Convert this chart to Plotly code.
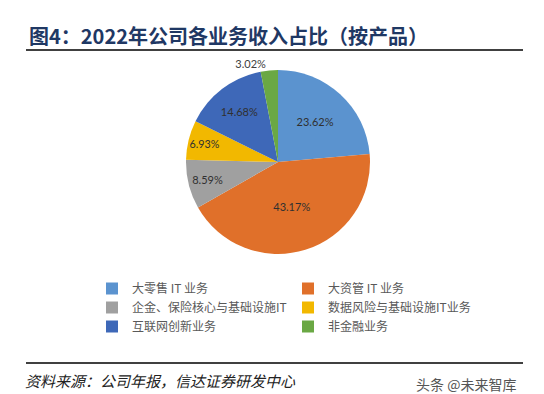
import plotly.graph_objects as go

categories = ["大零售 IT 业务", "大资管 IT 业务", "企金、保险核心与基础设施IT",
              "数据风险与基础设施IT业务", "互联网创新业务", "非金融业务"]
values = [23.62, 43.17, 8.59, 6.93, 14.68, 3.02]
labels_text = ["23.62%", "43.17%", "8.59%", "6.93%", "14.68%", "3.02%"]
colors = ["#5B93CF", "#E0702A", "#A0A0A0", "#F2B800", "#3E68B8", "#6AA844"]
text_positions = ["inside", "inside", "inside", "inside", "inside", "outside"]

W, H = 544, 394
cx, cy, R = 270, 154, 92

fig = go.Figure()
fig.add_trace(go.Pie(
    labels=categories, values=values, text=labels_text,
    textinfo="text", textposition=text_positions,
    insidetextorientation="horizontal",
    sort=False, direction="clockwise", rotation=0,
    marker=dict(colors=colors, line=dict(width=0)),
    textfont=dict(family="Lato, Open Sans, sans-serif", size=11, color="#303030"),
    outsidetextfont=dict(family="Lato, Open Sans, sans-serif", size=11, color="#404040"),
    domain=dict(x=[(cx - R) / W, (cx + R) / W],
                y=[(H - cy - R) / H, (H - cy + R) / H]),
    hoverinfo="skip",
))

fig.update_layout(
    width=W, height=H,
    margin=dict(l=0, r=0, t=0, b=0),
    paper_bgcolor="white", plot_bgcolor="white",
    showlegend=True,
    legend=dict(orientation="h", x=84 / W, y=1 - 266 / H, xanchor="left", yanchor="top",
                entrywidth=151, entrywidthmode="pixels",
                font=dict(family="Noto Sans CJK SC", size=12, color="#595959"),
                tracegroupgap=0, itemwidth=30, bgcolor="rgba(0,0,0,0)"),
    font=dict(family="Noto Sans CJK SC"),
)

# Title
fig.add_annotation(text="<b>图4：2022年公司各业务收入占比（按产品）</b>",
                   x=19 / W, y=1 - 27 / H, xref="paper", yref="paper",
                   xanchor="left", yanchor="middle", align="left", showarrow=False,
                   font=dict(family="Noto Sans CJK SC", size=20, color="#1F3864"))
# Lines
fig.add_shape(type="line", xref="paper", yref="paper",
              x0=18 / W, x1=515 / W, y0=1 - 42 / H, y1=1 - 42 / H,
              line=dict(color="#000000", width=1.5))
fig.add_shape(type="line", xref="paper", yref="paper",
              x0=18 / W, x1=515 / W, y0=1 - 355 / H, y1=1 - 355 / H,
              line=dict(color="#000000", width=1.5))
# Source
fig.add_annotation(text="<i>资料来源：公司年报，信达证券研发中心</i>",
                   x=15 / W, y=1 - 372 / H, xref="paper", yref="paper",
                   xanchor="left", yanchor="middle", align="left", showarrow=False,
                   font=dict(family="Noto Sans CJK SC", size=15, color="#222222"))
# Watermark
fig.add_annotation(text="头条 @未来智库",
                   x=510 / W, y=1 - 376 / H, xref="paper", yref="paper",
                   xanchor="right", yanchor="middle", align="right", showarrow=False,
                   font=dict(family="Noto Sans CJK SC", size=14, color="#555555"))

fig.write_html("out.html")
